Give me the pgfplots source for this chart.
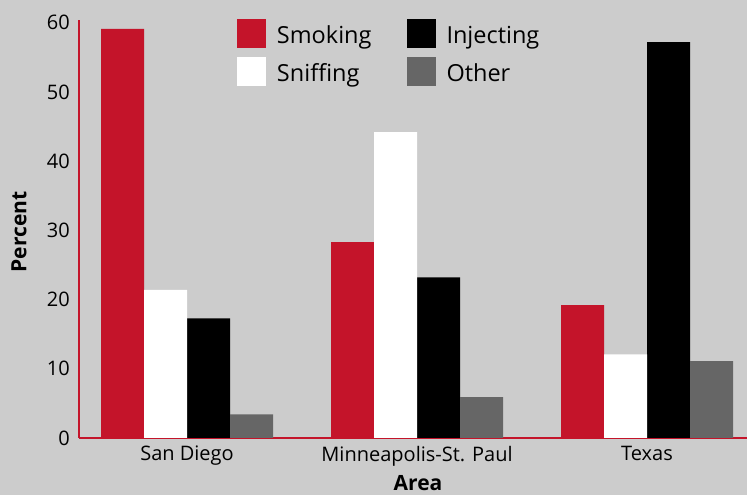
\documentclass[border=0pt]{standalone}
\usepackage{pgfplots}
\pgfplotsset{compat=1.18}
\usepackage{fontspec}
\setmainfont{Open Sans}
\definecolor{bgc}{HTML}{CCCCCC}
\definecolor{redc}{RGB}{196,20,42}
\definecolor{othc}{HTML}{666666}
\begin{document}
\begin{tikzpicture}
\useasboundingbox (0,0) rectangle (747pt,495pt);
\fill[bgc] (0,0) rectangle (747pt,495pt);
\begin{axis}[
  at={(79pt,57pt)}, anchor=south west,
  scale only axis, width=668pt, height=418pt,
  xmin=-0.4696, xmax=2.4348, ymin=0, ymax=60.4,
  ybar=0pt, bar width=43pt,
  legend image code/.code={\fill[#1] (0pt,-12.3pt) rectangle (29pt,16.7pt);},
  axis x line=bottom, axis y line=left,
  axis line style={redc, line width=2pt},
  x axis line style={-}, y axis line style={-},
  major tick length=0pt,
  xtick={0,1,2}, xticklabels={San Diego, Minneapolis-St. Paul, Texas},
  ytick={0,10,20,30,40,50,60},
  /pgf/number format/assume math mode=true,
  tick label style={font=\fontsize{20}{24}\selectfont, text=black},
  yticklabel style={inner sep=0pt, xshift=-9pt},
  xticklabel style={inner sep=0pt, yshift=-8pt},
  ylabel={Percent}, xlabel={Area},
  ylabel style={at={(axis description cs:-0.0898,0.493)}, anchor=center, font=\fontsize{21}{24}\selectfont\bfseries},
  xlabel style={at={(axis description cs:0.5075,-0.1077)}, anchor=center, inner sep=0pt, font=\fontsize{21}{24}\selectfont\bfseries},
  legend columns=2,
  legend cell align=left,
  legend style={at={(rel axis cs:0.2365,1.0024)}, anchor=north west, draw=none, fill=none,
    inner sep=0pt, outer sep=0pt, font=\fontsize{23.5}{27}\selectfont,
    nodes={inner sep=0pt}, row sep=9pt,
    /tikz/every odd column/.append style={column sep=11pt},
    /tikz/every even column/.append style={column sep=35pt}},
]
\addplot[fill=redc, draw=none, bar shift=-64.5pt] coordinates {(0,59.1) (1,28.3) (2,19.2)};
\addlegendentry{Smoking}
\addplot[fill=black, draw=none, bar shift=21.5pt] coordinates {(0,17.3) (1,23.2) (2,57.2)};
\addlegendentry{Injecting}
\addplot[fill=white, draw=none, bar shift=-21.5pt] coordinates {(0,21.4) (1,44.2) (2,12.1)};
\addlegendentry{Sniffing}
\addplot[fill=othc, draw=none, bar shift=64.5pt] coordinates {(0,3.4) (1,5.9) (2,11.1)};
\addlegendentry{Other}
\end{axis}
\end{tikzpicture}
\end{document}
